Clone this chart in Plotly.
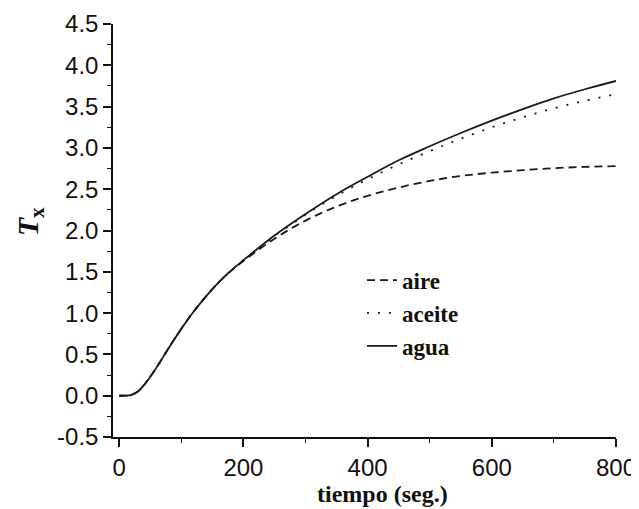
import plotly.graph_objects as go

# time (s)
tiempo = [0, 10, 20, 30, 40, 50, 60, 80, 100, 120, 150, 175, 200, 250, 300,
          350, 400, 450, 500, 550, 600, 650, 700, 750, 800]

# T_x values
agua = [0.0, 0.0, 0.01, 0.05, 0.13, 0.23, 0.34, 0.58, 0.81, 1.02, 1.29, 1.48,
        1.64, 1.94, 2.20, 2.44, 2.65, 2.85, 3.02, 3.18, 3.33, 3.47, 3.60, 3.71, 3.81]
aceite = [0.0, 0.0, 0.01, 0.05, 0.13, 0.23, 0.34, 0.58, 0.81, 1.02, 1.29, 1.48,
          1.64, 1.93, 2.19, 2.42, 2.62, 2.80, 2.96, 3.11, 3.25, 3.37, 3.48, 3.57, 3.65]
aire = [0.0, 0.0, 0.01, 0.05, 0.13, 0.23, 0.34, 0.58, 0.81, 1.02, 1.29, 1.48,
        1.63, 1.90, 2.12, 2.29, 2.42, 2.52, 2.60, 2.66, 2.70, 2.73, 2.755, 2.77, 2.78]

series_names = ["aire", "aceite", "agua"]

x_tickvals = [0, 200, 400, 600, 800]
x_ticktext = ["0", "200", "400", "600", "800"]
y_tickvals = [-0.5, 0.0, 0.5, 1.0, 1.5, 2.0, 2.5, 3.0, 3.5, 4.0, 4.5]
y_ticktext = ["-0.5", "0.0", "0.5", "1.0", "1.5", "2.0", "2.5", "3.0", "3.5", "4.0", "4.5"]

line_color = "#1a1a1a"
serif = "Liberation Serif, Times New Roman, serif"

fig = go.Figure()
fig.add_trace(go.Scatter(x=tiempo, y=aire, name="<b>" + series_names[0] + "</b>", mode="lines",
                         line=dict(color=line_color, width=1.8, dash="8px,5px", shape="spline")))
fig.add_trace(go.Scatter(x=tiempo, y=aceite, name="<b>" + series_names[1] + "</b>", mode="lines",
                         line=dict(color=line_color, width=1.8, dash="2px,9px", shape="spline")))
fig.add_trace(go.Scatter(x=tiempo, y=agua, name="<b>" + series_names[2] + "</b>", mode="lines",
                         line=dict(color=line_color, width=1.8, shape="spline")))

axis_font = dict(family="Liberation Sans, Arial, sans-serif", size=24, color="#111")

# the page body has an 8px margin, so the figure is sized to fill the 639x509 window
fig.update_layout(
    width=631, height=501,
    margin=dict(l=105, r=23, t=16, b=72, autoexpand=False),
    paper_bgcolor="white", plot_bgcolor="white",
    showlegend=True,
    legend=dict(x=0.495, y=0.432, xanchor="left", yanchor="top",
                font=dict(family=serif, size=23, color="#111"),
                bgcolor="rgba(0,0,0,0)", tracegroupgap=0),
    xaxis=dict(range=[-10, 800], showline=True, linecolor="#111", linewidth=1.5,
               ticks="outside", ticklen=8, tickwidth=1.5, tickcolor="#111",
               tickvals=x_tickvals, ticktext=x_ticktext, tickfont=axis_font,
               showgrid=False, zeroline=False, mirror=False, automargin=False,
               minor=dict(ticks="outside", ticklen=4, tickwidth=1.2, tickcolor="#111",
                          tickvals=[100, 300, 500, 700])),
    yaxis=dict(range=[-0.5, 4.5], showline=True, linecolor="#111", linewidth=1.5,
               ticks="outside", ticklen=8, tickwidth=1.5, tickcolor="#111",
               tickvals=y_tickvals, ticktext=y_ticktext, tickfont=axis_font,
               showgrid=False, zeroline=False, mirror=False, automargin=False,
               minor=dict(ticks="outside", ticklen=4, tickwidth=1.2, tickcolor="#111",
                          dtick=0.25)),
    annotations=[
        dict(text="<b>tiempo (seg.)</b>", xref="paper", yref="paper",
             x=0.536, y=-0.139, xanchor="center", yanchor="middle", showarrow=False,
             font=dict(family=serif, size=24, color="#111")),
        dict(text="<b><i>T</i></b><sub><b>x</b></sub>", xref="paper", yref="paper",
             x=-0.166, y=0.521, xanchor="center", yanchor="middle", showarrow=False,
             textangle=-90,
             font=dict(family=serif, size=30, color="#111")),
    ],
)

fig.write_html("out.html")
